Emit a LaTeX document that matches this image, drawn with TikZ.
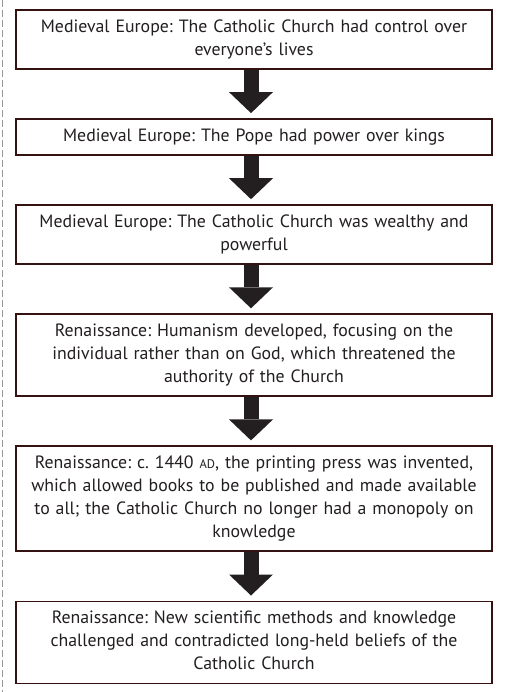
\documentclass[tikz,border=0pt]{standalone}
\usepackage{fontspec}
\setmainfont{PT Sans}
\usetikzlibrary{arrows.meta,positioning}
\definecolor{boxline}{RGB}{52,18,18}
\definecolor{arrowfill}{RGB}{35,31,32}
\definecolor{textgrey}{RGB}{35,31,32}
\definecolor{dashgrey}{RGB}{150,150,150}
\frenchspacing

\begin{document}
\begin{tikzpicture}[x=1pt,y=1pt,
    font=\fontsize{17.8}{23}\selectfont,
    eventbox/.style={draw=boxline, line width=1.6pt, fill=white, text=textgrey,
      text width=470pt, inner xsep=3pt, inner ysep=6.5pt, align=center,
      execute at begin node=\strut, execute at end node=\strut},
    downarrow/.style={draw=arrowfill, line width=15pt, shorten >=5pt,
      -{Triangle[width=44pt,length=21pt,line width=0pt]}},
    node distance=48.5pt]
    \useasboundingbox (0,0) rectangle (509,-692);
    \draw[dashgrey, line width=1pt, dash pattern=on 7pt off 3pt] (2.5,0) -- (2.5,-692);

    \node[eventbox, anchor=north] (b1) at (254,-9)
      {Medieval Europe: The Catholic Church had control over\\everyone’s lives};
    \node[eventbox, below=of b1] (b2)
      {Medieval Europe: The Pope had power over kings};
    \node[eventbox, below=of b2] (b3)
      {Medieval Europe: The Catholic Church was wealthy and\\powerful};
    \node[eventbox, below=of b3] (b4)
      {Renaissance: Humanism developed, focusing on the\\individual rather than on God, which threatened the\\authority of the Church};
    \node[eventbox, below=of b4] (b5)
      {Renaissance: c. 1440 {\fontsize{12.5}{23}\selectfont AD}, the printing press was invented,\\which allowed books to be published and made available\\to all; the Catholic Church no longer had a monopoly on\\knowledge};
    \node[eventbox, below=of b5] (b6)
      {Renaissance: New scientific methods and knowledge\\challenged and contradicted long-held beliefs of the\\Catholic Church};

    \foreach \a/\b in {b1/b2,b2/b3,b3/b4,b4/b5,b5/b6}
      \draw[downarrow] ([xshift=-3pt]\a.south) -- ([xshift=-3pt]\b.north);
\end{tikzpicture}
\end{document}
